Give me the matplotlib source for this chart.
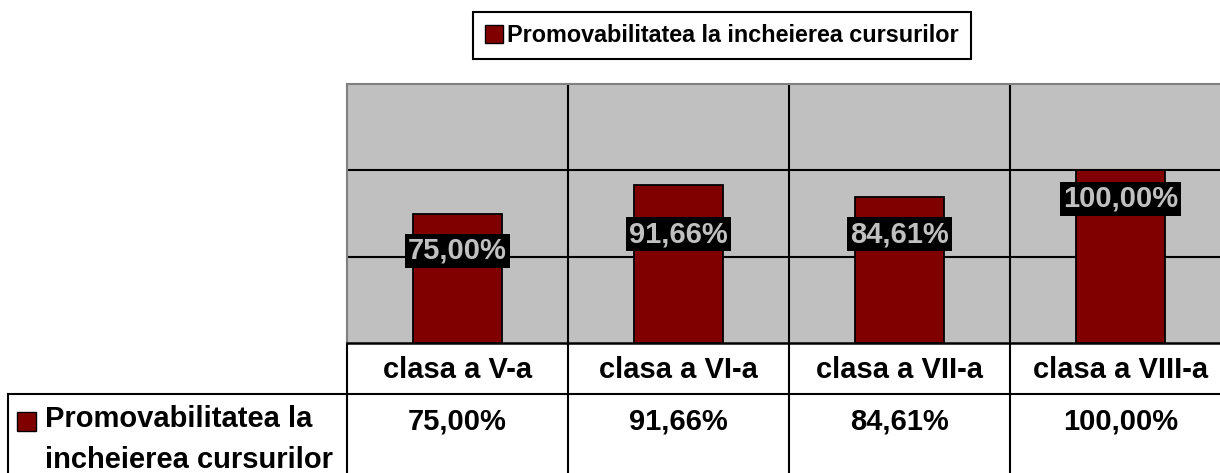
import matplotlib
matplotlib.use('Agg')
import matplotlib.pyplot as plt
from matplotlib.patches import Patch, Rectangle
from matplotlib.transforms import blended_transform_factory

plt.rcParams['font.family'] = ['Liberation Sans', 'DejaVu Sans']
plt.rcParams['font.weight'] = 'bold'

categories = ['clasa a V-a', 'clasa a VI-a', 'clasa a VII-a', 'clasa a VIII-a']
values = [75.00, 91.66, 84.61, 100.00]
label_y = [53.3, 63.1, 63.1, 83.4]  # where excel put the data labels
series_name = 'Promovabilitatea la incheierea cursurilor'
row_label = 'Promovabilitatea la\nincheierea cursurilor'

BAR = '#800000'
GRAY = '#C0C0C0'
W, H = 1220, 473

def pct(v):
    return f'{v:.2f}%'.replace('.', ',')

fig = plt.figure(figsize=(W / 100, H / 100), dpi=100)

# plot area (runs off the right edge like the original)
ax = fig.add_axes([347 / W, (H - 343) / H, (1231 - 347) / W, (343 - 84) / H])
ax.set_facecolor(GRAY)
x = list(range(len(categories)))
ax.bar(x, values, width=0.4, color=BAR, edgecolor='black', linewidth=1.3, zorder=3)
ax.set_xlim(-0.5, len(categories) - 0.5)
ax.set_ylim(0, 150)
ax.set_yticks([50, 100])
ax.yaxis.grid(True, color='black', linewidth=1.5)
ax.set_axisbelow(True)
for b in [i + 0.5 for i in x[:-1]]:
    ax.axvline(b, color='black', linewidth=1.5, zorder=1)
ax.tick_params(length=0, labelleft=False, labelbottom=False)
for s in ['top', 'left']:
    ax.spines[s].set_color('#808080')
    ax.spines[s].set_linewidth(1.5)
ax.spines['right'].set_visible(False)
ax.spines['bottom'].set_color('black')
ax.spines['bottom'].set_linewidth(1.8)
for i, v in enumerate(values):
    ax.text(i, label_y[i], pct(v), ha='center', va='center', color=GRAY,
            fontsize=21, fontweight='bold', zorder=5,
            bbox=dict(boxstyle='square,pad=0.1', fc='black', ec='none'))

# data table below, pixel coordinates for y
ov = fig.add_axes([0, 0, 1, 1], zorder=-1)
ov.set_xlim(0, W)
ov.set_ylim(H, 0)
ov.axis('off')
tr = blended_transform_factory(ax.transData, ov.transData)
lw = 1.5
ov.plot([8, W], [394, 394], color='black', lw=lw)
ov.plot([347, 347], [343, H], color='black', lw=lw)
ov.plot([8, 8], [394, H], color='black', lw=lw)
for b in [i + 0.5 for i in x[:-1]]:
    ov.plot([b, b], [343, H], color='black', lw=lw, transform=tr, clip_on=False)
for i, c in enumerate(categories):
    ov.text(i, 370, c, transform=tr, ha='center', va='center', fontsize=21,
            fontweight='bold', color='black')
    ov.text(i, 429, pct(values[i]), transform=tr, ha='center', va='baseline',
            fontsize=21, fontweight='bold', color='black')
ov.add_patch(Rectangle((17, 412), 19, 19, facecolor=BAR, edgecolor='black', lw=1))
ov.text(45, 468, row_label, ha='left', va='baseline', fontsize=21,
        fontweight='bold', linespacing=1.58)

# legend on top
fig.legend(handles=[Patch(facecolor=BAR, edgecolor='black', linewidth=1)],
           labels=[series_name], loc='center',
           bbox_to_anchor=(722 / W, 1 - 35.5 / H),
           prop={'weight': 'bold', 'size': 16.8},
           fancybox=False, framealpha=1, edgecolor='black',
           handlelength=0.75, handleheight=0.85, handletextpad=0.2,
           borderpad=0.5)
fig.legends[0].get_frame().set_linewidth(1.5)

fig.savefig('out.png', dpi=100)
